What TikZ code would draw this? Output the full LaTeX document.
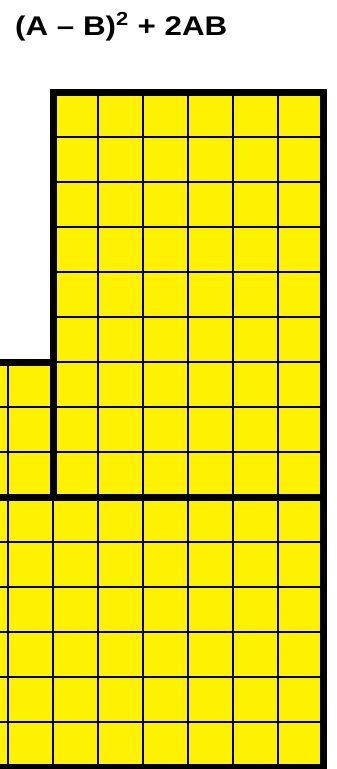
\documentclass[tikz,border=0pt]{standalone}
\usepackage{fontspec}
\setmainfont{Liberation Sans}
\usetikzlibrary{positioning}

\begin{document}
\begin{tikzpicture}[
        x=1pt, y=-1pt,
        cell_fill/.style={fill=yellow},
        grid_line/.style={draw=black, line width=1.6pt},
        border_line/.style={draw=black, line width=7pt, line join=miter},
        title_node/.style={anchor=base west, inner sep=0pt, xscale=1.16, font=\fontsize{27}{32}\selectfont\bfseries}
    ]
        \useasboundingbox (0,0) rectangle (337,769);
        \clip (0,0) rectangle (337,769);

        % Title
        \node (title) [title_node] at (15,35) {(A – B)\textsuperscript{2} + 2AB};

        % Area
        \fill [cell_fill] (-40,362) -- (53,362) -- (53,92) -- (323,92) -- (323,767) -- (-40,767) -- cycle;

        % Grid
        \begin{scope}
            \clip (-40,362) -- (53,362) -- (53,92) -- (323,92) -- (323,767) -- (-40,767) -- cycle;
            \foreach \i in {-1,...,6}
                \draw [grid_line] ({53+45*\i},92) -- ++(0,675);
            \foreach \j in {1,...,14}
                \draw [grid_line] (-40,{92+45*\j}) -- ++(380,0);
        \end{scope}

        % Borders
        \draw [border_line] (-40,362) -- (53,362) -- (53,92) -- (323,92) -- (323,767) -- (-40,767);
        \draw [border_line] (-40,497) -- (323,497);
        \draw [border_line] (53,92) -- (53,497);
    \end{tikzpicture}
\end{document}
